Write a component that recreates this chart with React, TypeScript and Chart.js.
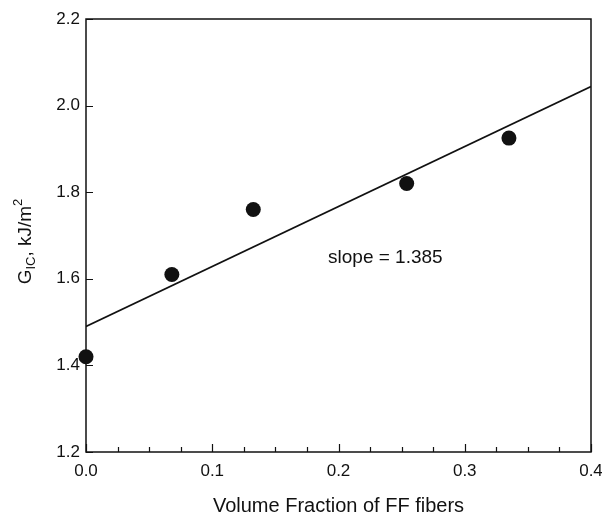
import React, { useEffect, useRef } from "react";
import { Chart, registerables } from "chart.js";

Chart.register(...registerables);

// ---- data ----
const fractionFF = [0, 0.068, 0.1325, 0.254, 0.335];
const gicValues = [1.42, 1.61, 1.76, 1.82, 1.925];
const fitX = [0, 0.4];
const fitY = [1.49, 2.044];
const xMajorTicks = [0, 0.1, 0.2, 0.3, 0.4];
const xMinorTicks = [0.025, 0.05, 0.075, 0.125, 0.15, 0.175, 0.225, 0.25, 0.275, 0.325, 0.35, 0.375];
const yMajorTicks = [1.2, 1.4, 1.6, 1.8, 2.0, 2.2];
const xTitle = "Volume Fraction of FF fibers";
const yTitleParts = ["G", "IC", ", kJ/m", "2"];
const slopeLabel = "slope = 1.385";
const slopeLabelAt = [0.1917, 1.6365];

const FONT = "'Liberation Sans', Arial, Helvetica, sans-serif";
const INK = "#111111";

const framePlugin = {
  id: "frame",
  beforeDatasetsDraw(chart: any) {
    const { ctx, chartArea } = chart;
    const x = chart.scales.x;
    const y = chart.scales.y;
    ctx.save();
    ctx.strokeStyle = INK;
    ctx.lineWidth = 1.5;
    ctx.strokeRect(chartArea.left, chartArea.top, chartArea.right - chartArea.left, chartArea.bottom - chartArea.top);
    ctx.lineWidth = 1.2;
    ctx.beginPath();
    for (const v of xMajorTicks) {
      const px = Math.round(x.getPixelForValue(v)) + 0.5;
      ctx.moveTo(px, chartArea.bottom);
      ctx.lineTo(px, chartArea.bottom - 8);
    }
    for (const v of xMinorTicks) {
      const px = Math.round(x.getPixelForValue(v)) + 0.5;
      ctx.moveTo(px, chartArea.bottom);
      ctx.lineTo(px, chartArea.bottom - 5);
    }
    for (const v of yMajorTicks) {
      const py = Math.round(y.getPixelForValue(v)) + 0.5;
      ctx.moveTo(chartArea.left, py);
      ctx.lineTo(chartArea.left + 7, py);
    }
    ctx.stroke();
    ctx.restore();
  },
  afterDraw(chart: any) {
    const { ctx } = chart;
    const x = chart.scales.x;
    const y = chart.scales.y;
    ctx.save();
    ctx.fillStyle = INK;
    // annotation
    ctx.font = `19px ${FONT}`;
    ctx.textAlign = "left";
    ctx.textBaseline = "alphabetic";
    ctx.fillText(slopeLabel, x.getPixelForValue(slopeLabelAt[0]), y.getPixelForValue(slopeLabelAt[1]));

    // rotated y-axis title with sub/superscripts
    const mainF = `19px ${FONT}`;
    const smallF = `13px ${FONT}`;
    const pieces = [
      { t: yTitleParts[0], f: mainF, dy: 0 },
      { t: yTitleParts[1], f: smallF, dy: 4 },
      { t: yTitleParts[2], f: mainF, dy: 0 },
      { t: yTitleParts[3], f: smallF, dy: -9 },
    ];
    let total = 0;
    const widths = pieces.map((p) => {
      ctx.font = p.f;
      const w = ctx.measureText(p.t).width;
      total += w;
      return w;
    });
    const centerY = (chart.chartArea.top + chart.chartArea.bottom) / 2 + 6;
    ctx.translate(31, centerY);
    ctx.rotate(-Math.PI / 2);
    let cx = -total / 2;
    pieces.forEach((p, i) => {
      ctx.font = p.f;
      ctx.fillText(p.t, cx, p.dy);
      cx += widths[i];
    });
    ctx.restore();
  },
};

export default function App() {
  const canvasRef = useRef<HTMLCanvasElement | null>(null);

  useEffect(() => {
    if (!canvasRef.current) return;
    const chart = new Chart(canvasRef.current, {
      type: "scatter",
      data: {
        datasets: [
          {
            type: "line",
            label: "fit",
            data: fitX.map((v, i) => ({ x: v, y: fitY[i] })),
            borderColor: INK,
            borderWidth: 1.6,
            pointRadius: 0,
            fill: false,
            order: 2,
          } as any,
          {
            label: "data",
            data: fractionFF.map((v, i) => ({ x: v, y: gicValues[i] })),
            backgroundColor: INK,
            borderColor: INK,
            borderWidth: 0,
            pointRadius: 7.5,
            order: 1,
            clip: false,
          } as any,
        ],
      },
      options: {
        animation: false,
        responsive: true,
        maintainAspectRatio: false,
        layout: { padding: { left: 0, right: 11, top: 19, bottom: 0 } },
        plugins: { legend: { display: false }, tooltip: { enabled: false } },
        scales: {
          x: {
            type: "linear",
            min: 0,
            max: 0.4,
            grid: { display: false, drawTicks: false },
            border: { display: false },
            afterBuildTicks: (s: any) => {
              s.ticks = xMajorTicks.map((v) => ({ value: v }));
            },
            afterFit: (s: any) => {
              s.height = 64;
              s.paddingLeft = 0;
              s.paddingRight = 0;
            },
            ticks: {
              padding: 9,
              color: INK,
              font: { family: FONT, size: 17 },
              callback: (v: any) => Number(v).toFixed(1),
            },
            title: {
              display: true,
              text: xTitle,
              color: INK,
              font: { family: FONT, size: 20 },
              padding: { top: 0, bottom: -2 },
            },
          },
          y: {
            type: "linear",
            min: 1.2,
            max: 2.2,
            grid: { display: false, drawTicks: false },
            border: { display: false },
            afterBuildTicks: (s: any) => {
              s.ticks = yMajorTicks.map((v) => ({ value: v }));
            },
            afterFit: (s: any) => {
              s.width = 86;
              s.paddingTop = 0;
              s.paddingBottom = 0;
            },
            ticks: {
              padding: 6,
              color: INK,
              font: { family: FONT, size: 17 },
              callback: (v: any) => Number(v).toFixed(1),
            },
          },
        },
      },
      plugins: [framePlugin],
    });
    return () => chart.destroy();
  }, []);

  return (
    <div style={{ position: "absolute", left: 0, top: 0, width: 602, height: 516, background: "#fff" }}>
      <canvas ref={canvasRef} />
    </div>
  );
}
